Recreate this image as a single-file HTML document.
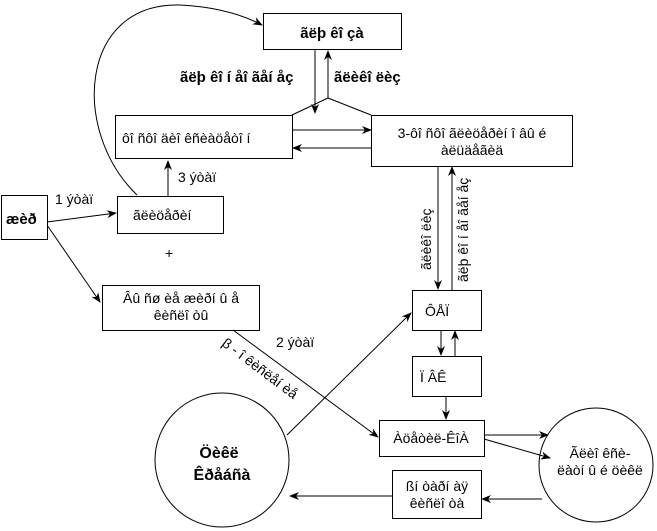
<!DOCTYPE html>
<html><head><meta charset="utf-8"><style>body{margin:0;background:#fff}svg{display:block}text{font-family:"Liberation Sans",sans-serif;fill:#000}</style></head><body>
<svg width="657" height="531" viewBox="0 0 657 531" xmlns="http://www.w3.org/2000/svg">
<defs><marker id="a" markerWidth="10" markerHeight="8" refX="9" refY="4" orient="auto" markerUnits="userSpaceOnUse"><path d="M0,0 L10,4 L0,8 L3,4 z" fill="#000"/></marker></defs>
<g fill="none" stroke="#000" stroke-width="1">
<rect x="263.5" y="13.5" width="138" height="36"/>
<rect x="115.5" y="115.5" width="177" height="43"/>
<rect x="371.5" y="115.5" width="201" height="51"/>
<rect x="1.5" y="195.5" width="46" height="44"/>
<rect x="117.5" y="196.5" width="106" height="37"/>
<rect x="102.5" y="285.5" width="157" height="45"/>
<rect x="412.5" y="290.5" width="69" height="40"/>
<rect x="412.5" y="356.5" width="69" height="40"/>
<rect x="379.5" y="420.5" width="105" height="36"/>
<rect x="392.5" y="470.5" width="89" height="48"/>
<circle cx="222" cy="460" r="67"/>
<circle cx="596" cy="465" r="57"/>
<path d="M137,195 C70,130 80,2 180,5 C220,7 245,16 262,25" marker-end="url(#a)"/>
<line x1="315" y1="49" x2="315" y2="113" marker-end="url(#a)"/>
<line x1="328" y1="98" x2="328" y2="51" marker-end="url(#a)"/>
<line x1="328" y1="98" x2="292" y2="115"/>
<line x1="328" y1="98" x2="371" y2="115"/>
<line x1="292" y1="130" x2="371" y2="130" marker-end="url(#a)"/>
<line x1="371" y1="148" x2="293" y2="148" marker-end="url(#a)"/>
<line x1="438" y1="166" x2="438" y2="289" marker-end="url(#a)"/>
<line x1="452" y1="290" x2="452" y2="167" marker-end="url(#a)"/>
<line x1="168" y1="196" x2="168" y2="161" marker-end="url(#a)"/>
<line x1="47" y1="222" x2="116" y2="213" marker-end="url(#a)"/>
<line x1="47" y1="225" x2="100" y2="302" marker-end="url(#a)"/>
<line x1="233" y1="330" x2="378" y2="437" marker-end="url(#a)"/>
<line x1="287" y1="435" x2="411" y2="313" marker-end="url(#a)"/>
<line x1="441" y1="330" x2="441" y2="355" marker-end="url(#a)"/>
<line x1="455" y1="356" x2="455" y2="331" marker-end="url(#a)"/>
<line x1="446" y1="396" x2="446" y2="419" marker-end="url(#a)"/>
<line x1="484" y1="435" x2="548" y2="435" marker-end="url(#a)"/>
<line x1="484" y1="439" x2="550" y2="458" marker-end="url(#a)"/>
<line x1="542" y1="499" x2="482" y2="499" marker-end="url(#a)"/>
<line x1="392" y1="496" x2="290" y2="496" marker-end="url(#a)"/>
</g>
<g font-size="14">
<text x="332" y="38" text-anchor="middle" font-weight="bold" font-size="15">ãëþ êî çà</text>
<text x="180" y="82" font-weight="bold" font-size="15">ãëþ êî í åî ãåí åç</text>
<text x="334" y="82" font-weight="bold" font-size="15">ãëèêî ëèç</text>
<text x="122" y="143">ôî ñôî äèî êñèàöåòî í</text>
<text x="472" y="138" text-anchor="middle">3-ôî ñôî ãëèöåðèí î âû é</text>
<text x="472" y="155" text-anchor="middle">àëüäåãèä</text>
<text x="6" y="224" font-weight="bold" font-size="15">æèð</text>
<text x="133" y="220">ãëèöåðèí</text>
<text x="55" y="204">1 ýòàï</text>
<text x="178" y="182">3 ýòàï</text>
<text x="165" y="258">+</text>
<text x="181" y="303" text-anchor="middle">Âû ñø èå æèðí û å</text>
<text x="181" y="320" text-anchor="middle">êèñëî òû</text>
<text x="276" y="347">2 ýòàï</text>
<text transform="translate(221,345) rotate(37)">β - î êèñëåí èå</text>
<text transform="translate(431,270) rotate(-90)">ãëèêî ëèç</text>
<text transform="translate(468,282) rotate(-90)">ãëþ êî í åî ãåí åç</text>
<text x="425" y="316">ÔÅÏ</text>
<text x="420" y="382">Ï ÂÊ</text>
<text x="431" y="443" text-anchor="middle">Àöåòèë-ÊîÀ</text>
<text x="437" y="491" text-anchor="middle">ßí òàðí àÿ</text>
<text x="437" y="508" text-anchor="middle">êèñëî òà</text>
<text x="219" y="458" text-anchor="middle" font-weight="bold" font-size="16">Öèêë</text>
<text x="222" y="480" text-anchor="middle" font-weight="bold" font-size="16">Êðåáñà</text>
<text x="600" y="458" text-anchor="middle">Ãëèî êñè-</text>
<text x="600" y="475" text-anchor="middle">ëàòí û é öèêë</text>
</g>
</svg>
</body></html>
